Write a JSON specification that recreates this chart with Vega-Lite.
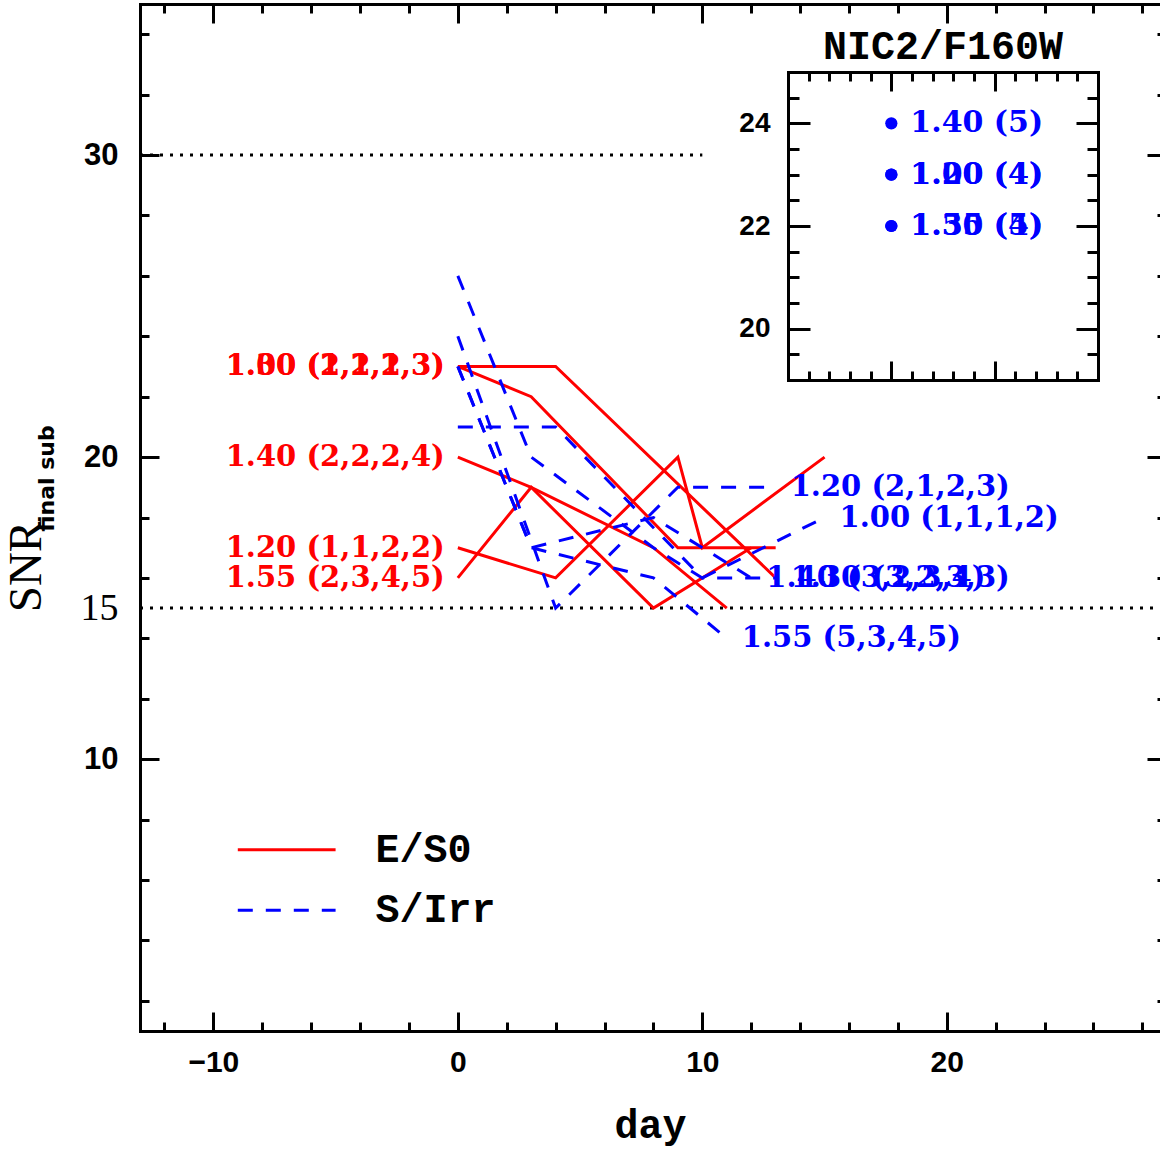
{
  "$schema": "https://vega.github.io/schema/vega-lite/v6.json",
  "width": 1020,
  "height": 1027,
  "autosize": "none",
  "padding": {"left": 140, "top": 4, "right": 0, "bottom": 124},
  "background": "white",
  "config": {
    "view": {"stroke": null},
    "axis": {"domainColor": "black", "tickColor": "black", "domainWidth": 3, "tickWidth": 3, "grid": false, "labelColor": "black", "titleColor": "black", "labelOverlap": false, "labelFlush": false, "domainCap": "square"}
  },
  "datasets": {
    "red": [
      {"id": "A", "day": 0, "snr": 23}, {"id": "A", "day": 4, "snr": 23}, {"id": "A", "day": 13, "snr": 16},
      {"id": "B", "day": 0, "snr": 23}, {"id": "B", "day": 3, "snr": 22}, {"id": "B", "day": 9, "snr": 17}, {"id": "B", "day": 13, "snr": 17},
      {"id": "C", "day": 0, "snr": 20}, {"id": "C", "day": 3, "snr": 19}, {"id": "C", "day": 8, "snr": 17}, {"id": "C", "day": 11, "snr": 15},
      {"id": "D", "day": 0, "snr": 17}, {"id": "D", "day": 4, "snr": 16}, {"id": "D", "day": 9, "snr": 20}, {"id": "D", "day": 10, "snr": 17}, {"id": "D", "day": 15, "snr": 20},
      {"id": "E", "day": 0, "snr": 16}, {"id": "E", "day": 3, "snr": 19}, {"id": "E", "day": 8, "snr": 15}, {"id": "E", "day": 12, "snr": 17}
    ],
    "blue": [
      {"id": "L1", "day": 0, "snr": 24}, {"id": "L1", "day": 4, "snr": 15}, {"id": "L1", "day": 9, "snr": 19}, {"id": "L1", "day": 13, "snr": 19},
      {"id": "L2", "day": 0, "snr": 21}, {"id": "L2", "day": 4, "snr": 21}, {"id": "L2", "day": 10, "snr": 16}, {"id": "L2", "day": 15, "snr": 18},
      {"id": "L3", "day": 0, "snr": 23}, {"id": "L3", "day": 3, "snr": 17}, {"id": "L3", "day": 8, "snr": 16}, {"id": "L3", "day": 11, "snr": 14},
      {"id": "L4", "day": 0, "snr": 23}, {"id": "L4", "day": 3, "snr": 17}, {"id": "L4", "day": 8, "snr": 18}, {"id": "L4", "day": 12, "snr": 16},
      {"id": "L5", "day": 0, "snr": 26}, {"id": "L5", "day": 3, "snr": 20}, {"id": "L5", "day": 8, "snr": 17}, {"id": "L5", "day": 10, "snr": 16}, {"id": "L5", "day": 13, "snr": 16}
    ],
    "redlab": [
      {"day": 0, "snr": 23, "label": "1.00 (2,2,2,3)"},
      {"day": 0, "snr": 23, "label": "1.30 (1,1,1,3)"},
      {"day": 0, "snr": 20, "label": "1.40 (2,2,2,4)"},
      {"day": 0, "snr": 17, "label": "1.20 (1,1,2,2)"},
      {"day": 0, "snr": 16, "label": "1.55 (2,3,4,5)"}
    ],
    "bluelab": [
      {"day": 13, "snr": 19, "label": "1.20 (2,1,2,3)"},
      {"day": 15, "snr": 18, "label": "1.00 (1,1,1,2)"},
      {"day": 11, "snr": 14, "label": "1.55 (5,3,4,5)"},
      {"day": 12, "snr": 16, "label": "1.40 (3,2,3,4)"},
      {"day": 13, "snr": 16, "label": "1.30 (3,2,3,3)"}
    ],
    "dots": [
      {"x1": -13, "x2": 10, "y": 30},
      {"x1": -13, "x2": 28.72, "y": 15}
    ],
    "legend": [
      {"x1": -9, "x2": -5, "y": 7, "type": "E/S0"},
      {"x1": -9, "x2": -5, "y": 5, "type": "S/Irr"}
    ],
    "inset": [
      {"day": 0, "snr": 24, "label": "1.40 (5)"},
      {"day": 0, "snr": 23, "label": "1.20 (4)"},
      {"day": 0, "snr": 23, "label": "1.00 (4)"},
      {"day": 0, "snr": 22, "label": "1.30 (4)"},
      {"day": 0, "snr": 22, "label": "1.55 (5)"}
    ]
  },
  "resolve": {"scale": {"x": "independent", "y": "independent"}, "axis": {"x": "independent", "y": "independent"}},
  "layer": [
    {
      "data": {"name": "red"},
      "mark": {"type": "point", "opacity": 0},
      "encoding": {
        "x": {"field": "day", "type": "quantitative", "scale": {"domain": [-13, 28.72], "nice": false, "zero": false},
          "axis": {"orient": "bottom", "values": [-10, 0, 10, 20], "ticks": false, "domain": true, "labelFont": "Liberation Sans", "labelFontWeight": "bold", "labelFontSize": 30, "labelPadding": 16,
            "title": "day", "titleFont": "Liberation Mono", "titleFontWeight": "bold", "titleFontSize": 40, "titleY": 106, "titleBaseline": "alphabetic"}},
        "y": {"field": "snr", "type": "quantitative", "scale": {"domain": [1, 35], "nice": false, "zero": false},
          "axis": {"orient": "left", "values": [10, 15, 20, 30], "ticks": false, "domain": true, "labelPadding": 22,
            "labelFontWeight": {"condition": {"test": "datum.value == 15", "value": "normal"}, "value": "bold"},
            "labelFont": {"condition": {"test": "datum.value == 15", "value": "Liberation Serif"}, "value": "Liberation Sans"},
            "labelFontSize": {"condition": {"test": "datum.value == 15", "value": 38}, "value": 31},
            "title": "SNR", "titleFont": "Liberation Serif", "titleFontWeight": "normal", "titleFontSize": 47, "titleAngle": 270, "titleX": -114, "titleY": 562, "titleAlign": "center", "titleBaseline": "middle"}}
      }
    },
    {
      "data": {"name": "red"},
      "mark": {"type": "point", "opacity": 0},
      "encoding": {
        "x": {"field": "day", "type": "quantitative", "scale": {"domain": [-13, 28.72], "nice": false, "zero": false},
          "axis": {"orient": "bottom", "values": [-10, 0, 10, 20], "labels": false, "domain": false, "tickSize": -19, "title": null}},
        "y": {"field": "snr", "type": "quantitative", "scale": {"domain": [1, 35], "nice": false, "zero": false},
          "axis": {"orient": "left", "values": [10, 20, 30], "labels": false, "domain": false, "tickSize": -19,
            "title": "final sub", "titleFont": "DejaVu Sans", "titleFontWeight": "bold", "titleFontSize": 22, "titleAngle": 270, "titleX": -94, "titleY": 474, "titleAlign": "center", "titleBaseline": "middle"}}
      }
    },
    {
      "data": {"name": "red"},
      "mark": {"type": "point", "opacity": 0},
      "encoding": {
        "x": {"field": "day", "type": "quantitative", "scale": {"domain": [-13, 28.72], "nice": false, "zero": false},
          "axis": {"orient": "bottom", "values": [-12, -8, -6, -4, -2, 2, 4, 6, 8, 12, 14, 16, 18, 22, 24, 26, 28], "labels": false, "domain": false, "tickSize": -9, "title": null}},
        "y": {"field": "snr", "type": "quantitative", "scale": {"domain": [1, 35], "nice": false, "zero": false},
          "axis": {"orient": "left", "values": [2, 4, 6, 8, 12, 14, 16, 18, 22, 24, 26, 28, 32, 34], "labels": false, "domain": false, "tickSize": -9, "title": null}}
      }
    },
    {
      "data": {"name": "red"},
      "mark": {"type": "point", "opacity": 0},
      "encoding": {
        "x": {"field": "day", "type": "quantitative", "scale": {"domain": [-13, 28.72], "nice": false, "zero": false},
          "axis": {"orient": "top", "values": [-10, 0, 10, 20], "labels": false, "domain": true, "tickSize": -19, "title": null}},
        "y": {"field": "snr", "type": "quantitative", "scale": {"domain": [1, 35], "nice": false, "zero": false},
          "axis": {"orient": "right", "offset": 6, "values": [10, 20, 30], "labels": false, "domain": true, "tickSize": -19, "title": null}}
      }
    },
    {
      "data": {"name": "red"},
      "mark": {"type": "point", "opacity": 0},
      "encoding": {
        "x": {"field": "day", "type": "quantitative", "scale": {"domain": [-13, 28.72], "nice": false, "zero": false},
          "axis": {"orient": "top", "values": [-12, -8, -6, -4, -2, 2, 4, 6, 8, 12, 14, 16, 18, 22, 24, 26, 28], "labels": false, "domain": false, "tickSize": -9, "title": null}},
        "y": {"field": "snr", "type": "quantitative", "scale": {"domain": [1, 35], "nice": false, "zero": false},
          "axis": {"orient": "right", "offset": 6, "values": [2, 4, 6, 8, 12, 14, 16, 18, 22, 24, 26, 28, 32, 34], "labels": false, "domain": false, "tickSize": -9, "title": null}}
      }
    },
    {
      "data": {"name": "inset"},
      "mark": {"type": "point", "opacity": 0},
      "encoding": {
        "x": {"field": "day", "type": "quantitative", "scale": {"domain": [-10, 20], "range": [648, 958], "nice": false, "zero": false},
          "axis": {"orient": "bottom", "offset": -651, "values": [-10, 0, 10, 20], "labels": false, "domain": true, "tickSize": -19, "title": null}},
        "y": {"field": "snr", "type": "quantitative", "scale": {"domain": [19, 25], "range": [376, 68], "nice": false, "zero": false},
          "axis": {"orient": "left", "offset": -648, "values": [20, 22, 24], "ticks": false, "domain": true, "labelPadding": 18, "labelFont": "Liberation Sans", "labelFontWeight": "bold", "labelFontSize": 28, "title": null}}
      }
    },
    {
      "data": {"name": "inset"},
      "mark": {"type": "point", "opacity": 0},
      "encoding": {
        "x": {"field": "day", "type": "quantitative", "scale": {"domain": [-10, 20], "range": [648, 958], "nice": false, "zero": false},
          "axis": {"orient": "bottom", "offset": -651, "values": [-8, -6, -4, -2, 2, 4, 6, 8, 12, 14, 16, 18], "labels": false, "domain": false, "tickSize": -9, "title": null}},
        "y": {"field": "snr", "type": "quantitative", "scale": {"domain": [19, 25], "range": [376, 68], "nice": false, "zero": false},
          "axis": {"orient": "left", "offset": -648, "values": [20, 22, 24], "labels": false, "domain": false, "tickSize": -22, "title": null}}
      }
    },
    {
      "data": {"name": "inset"},
      "mark": {"type": "point", "opacity": 0},
      "encoding": {
        "x": {"field": "day", "type": "quantitative", "scale": {"domain": [-10, 20], "range": [648, 958], "nice": false, "zero": false},
          "axis": {"orient": "top", "offset": -68, "values": [-10, 0, 10, 20], "labels": false, "domain": true, "tickSize": -19, "title": null}},
        "y": {"field": "snr", "type": "quantitative", "scale": {"domain": [19, 25], "range": [376, 68], "nice": false, "zero": false},
          "axis": {"orient": "left", "offset": -648, "values": [19.5, 20.5, 21, 21.5, 22.5, 23, 23.5, 24.5], "labels": false, "domain": false, "tickSize": -11, "title": null}}
      }
    },
    {
      "data": {"name": "inset"},
      "mark": {"type": "point", "opacity": 0},
      "encoding": {
        "x": {"field": "day", "type": "quantitative", "scale": {"domain": [-10, 20], "range": [648, 958], "nice": false, "zero": false},
          "axis": {"orient": "top", "offset": -68, "values": [-8, -6, -4, -2, 2, 4, 6, 8, 12, 14, 16, 18], "labels": false, "domain": false, "tickSize": -9, "title": null}},
        "y": {"field": "snr", "type": "quantitative", "scale": {"domain": [19, 25], "range": [376, 68], "nice": false, "zero": false},
          "axis": {"orient": "right", "offset": -62, "values": [20, 22, 24], "labels": false, "domain": true, "tickSize": -22, "title": null}}
      }
    },
    {
      "data": {"name": "inset"},
      "mark": {"type": "point", "opacity": 0},
      "encoding": {
        "x": {"field": "day", "type": "quantitative", "scale": {"domain": [-10, 20], "range": [648, 958], "nice": false, "zero": false}, "axis": null},
        "y": {"field": "snr", "type": "quantitative", "scale": {"domain": [19, 25], "range": [376, 68], "nice": false, "zero": false},
          "axis": {"orient": "right", "offset": -62, "values": [19.5, 20.5, 21, 21.5, 22.5, 23, 23.5, 24.5], "labels": false, "domain": false, "tickSize": -11, "title": null}}
      }
    },
    {
      "data": {"name": "dots"},
      "mark": {"type": "rule", "color": "black", "strokeWidth": 3, "strokeDash": [3, 7]},
      "encoding": {
        "x": {"field": "x1", "type": "quantitative", "scale": {"domain": [-13, 28.72], "nice": false, "zero": false}, "axis": null},
        "x2": {"field": "x2"},
        "y": {"field": "y", "type": "quantitative", "scale": {"domain": [1, 35], "nice": false, "zero": false}, "axis": null}
      }
    },
    {
      "data": {"name": "red"},
      "mark": {"type": "line", "color": "#ff0000", "strokeWidth": 3},
      "encoding": {
        "x": {"field": "day", "type": "quantitative", "scale": {"domain": [-13, 28.72], "nice": false, "zero": false}, "axis": null},
        "y": {"field": "snr", "type": "quantitative", "scale": {"domain": [1, 35], "nice": false, "zero": false}, "axis": null},
        "detail": {"field": "id"}
      }
    },
    {
      "data": {"name": "blue"},
      "mark": {"type": "line", "color": "#0000ff", "strokeWidth": 3, "strokeDash": [15, 13]},
      "encoding": {
        "x": {"field": "day", "type": "quantitative", "scale": {"domain": [-13, 28.72], "nice": false, "zero": false}, "axis": null},
        "y": {"field": "snr", "type": "quantitative", "scale": {"domain": [1, 35], "nice": false, "zero": false}, "axis": null},
        "detail": {"field": "id"}
      }
    },
    {
      "data": {"name": "redlab"},
      "mark": {"type": "text", "color": "#ff0000", "font": "DejaVu Serif", "fontWeight": "bold", "fontSize": 29, "align": "right", "baseline": "middle", "dx": -13},
      "encoding": {
        "x": {"field": "day", "type": "quantitative", "scale": {"domain": [-13, 28.72], "nice": false, "zero": false}, "axis": null},
        "y": {"field": "snr", "type": "quantitative", "scale": {"domain": [1, 35], "nice": false, "zero": false}, "axis": null},
        "text": {"field": "label"}
      }
    },
    {
      "data": {"name": "bluelab"},
      "mark": {"type": "text", "color": "#0000ff", "font": "DejaVu Serif", "fontWeight": "bold", "fontSize": 29, "align": "left", "baseline": "middle", "dx": 15},
      "encoding": {
        "x": {"field": "day", "type": "quantitative", "scale": {"domain": [-13, 28.72], "nice": false, "zero": false}, "axis": null},
        "y": {"field": "snr", "type": "quantitative", "scale": {"domain": [1, 35], "nice": false, "zero": false}, "axis": null},
        "text": {"field": "label"}
      }
    },
    {
      "data": {"name": "legend"},
      "mark": {"type": "rule", "strokeWidth": 3},
      "encoding": {
        "x": {"field": "x1", "type": "quantitative", "scale": {"domain": [-13, 28.72], "nice": false, "zero": false}, "axis": null},
        "x2": {"field": "x2"},
        "y": {"field": "y", "type": "quantitative", "scale": {"domain": [1, 35], "nice": false, "zero": false}, "axis": null},
        "color": {"field": "type", "type": "nominal", "scale": {"domain": ["E/S0", "S/Irr"], "range": ["#ff0000", "#0000ff"]}, "legend": null},
        "strokeDash": {"field": "type", "type": "nominal", "scale": {"domain": ["E/S0", "S/Irr"], "range": [[1, 0], [15, 13]]}, "legend": null}
      }
    },
    {
      "data": {"name": "legend"},
      "mark": {"type": "text", "color": "black", "font": "Liberation Mono", "fontWeight": "bold", "fontSize": 40, "align": "left", "baseline": "middle", "dx": 40},
      "encoding": {
        "x": {"field": "x2", "type": "quantitative", "scale": {"domain": [-13, 28.72], "nice": false, "zero": false}, "axis": null},
        "y": {"field": "y", "type": "quantitative", "scale": {"domain": [1, 35], "nice": false, "zero": false}, "axis": null},
        "text": {"field": "type"}
      }
    },
    {
      "data": {"name": "inset"},
      "mark": {"type": "circle", "color": "#0000ff", "opacity": 1, "size": 150},
      "encoding": {
        "x": {"field": "day", "type": "quantitative", "scale": {"domain": [-10, 20], "range": [648, 958], "nice": false, "zero": false}, "axis": null},
        "y": {"field": "snr", "type": "quantitative", "scale": {"domain": [19, 25], "range": [376, 68], "nice": false, "zero": false}, "axis": null}
      }
    },
    {
      "data": {"name": "inset"},
      "mark": {"type": "text", "color": "#0000ff", "font": "DejaVu Serif", "fontWeight": "bold", "fontSize": 30, "align": "left", "baseline": "middle", "dx": 19},
      "encoding": {
        "x": {"field": "day", "type": "quantitative", "scale": {"domain": [-10, 20], "range": [648, 958], "nice": false, "zero": false}, "axis": null},
        "y": {"field": "snr", "type": "quantitative", "scale": {"domain": [19, 25], "range": [376, 68], "nice": false, "zero": false}, "axis": null},
        "text": {"field": "label"}
      }
    },
    {
      "data": {"values": [{"day": 5, "snr": 25, "t": "NIC2/F160W"}]},
      "mark": {"type": "text", "color": "black", "font": "Liberation Mono", "fontWeight": "bold", "fontSize": 40, "align": "center", "baseline": "alphabetic", "dy": -13},
      "encoding": {
        "x": {"field": "day", "type": "quantitative", "scale": {"domain": [-10, 20], "range": [648, 958], "nice": false, "zero": false}, "axis": null},
        "y": {"field": "snr", "type": "quantitative", "scale": {"domain": [19, 25], "range": [376, 68], "nice": false, "zero": false}, "axis": null},
        "text": {"field": "t"}
      }
    }
  ]
}
